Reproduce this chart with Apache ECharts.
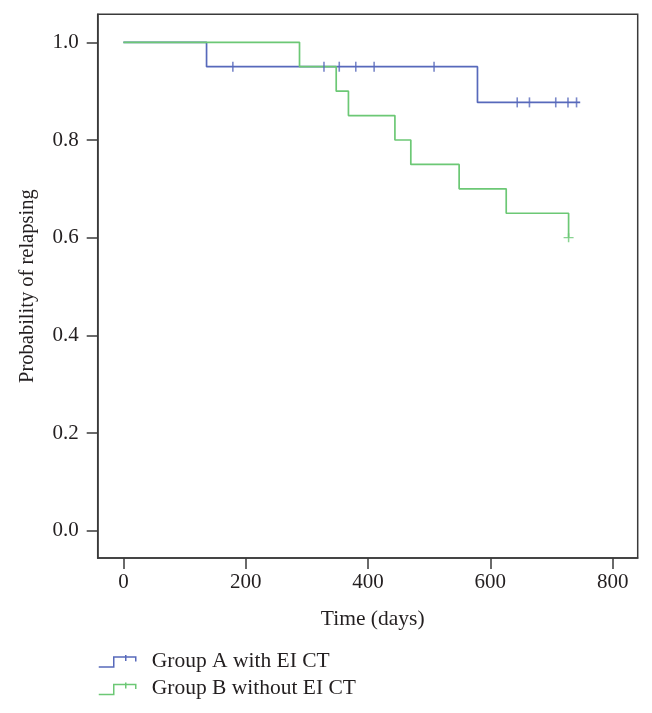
<!DOCTYPE html>
<html>
<head>
<meta charset="utf-8">
<script src="https://cdn.jsdelivr.net/npm/echarts@6/dist/echarts.min.js"></script>
<style>html,body{margin:0;padding:0;background:#fff;}#c{width:652px;height:713px;}</style>
</head>
<body>
<div id="c"></div>
<script>
// ---- data ----
const seriesNames = ['Group A with EI CT', 'Group B without EI CT'];
// Kaplan-Meier steps: [time (days), probability]
const groupASteps = [[0, 1.0], [136, 0.95], [579, 0.877], [747, 0.877]];
const groupBSteps = [[0, 1.0], [288, 0.95], [348, 0.90], [368, 0.85], [444, 0.80], [470, 0.75], [549, 0.70], [626, 0.65], [728, 0.60]];
// censored observations
const groupACensored = [[179, 0.95], [328, 0.95], [353, 0.95], [380, 0.95], [410, 0.95], [508, 0.95],
                        [644, 0.877], [664, 0.877], [707, 0.877], [727, 0.877], [741, 0.877]];
const groupBCensored = [[728, 0.60]];
const xTicks = [0, 200, 400, 600, 800];
const yTicks = [0, 0.2, 0.4, 0.6, 0.8, 1.0];

const blue = '#5769bb';
const green = '#6cc875';
const frame = '#3a3a3a';
const font = '"Liberation Serif", "DejaVu Serif", serif';
const txt = '#231f20';
const legendIcon = 'path://M0,12 L15,12 L15,2 L37,2 L37,6.5 M27,0 L27,6';

const chart = echarts.init(document.getElementById('c'));
chart.setOption({
  animation: false,
  backgroundColor: '#fff',
  grid: {
    left: 97.7, right: 14.3, top: 14.3, bottom: 155,
    show: true, borderColor: frame, borderWidth: 1.5, backgroundColor: 'transparent',
    containLabel: false
  },
  xAxis: {
    type: 'value', min: -42, max: 841,
    name: 'Time (days)', nameLocation: 'middle', nameGap: 50,
    nameTextStyle: { fontFamily: font, fontSize: 21.5, color: txt, padding: [0, 0, 0, 10] },
    axisLine: { show: true, onZero: false, lineStyle: { color: frame, width: 1.5 } },
    axisTick: { show: true, length: 11, lineStyle: { color: frame, width: 1.5 }, customValues: xTicks },
    axisLabel: { margin: 14, fontFamily: font, fontSize: 21, color: txt, customValues: xTicks },
    splitLine: { show: false }
  },
  yAxis: {
    type: 'value', min: -0.0557, max: 1.0573,
    name: 'Probability of relapsing', nameLocation: 'middle', nameGap: 60, nameRotate: 90,
    nameTextStyle: { fontFamily: font, fontSize: 20.5, color: txt },
    axisLine: { show: true, onZero: false, lineStyle: { color: frame, width: 1.5 } },
    axisTick: { show: true, length: 11, lineStyle: { color: frame, width: 1.5 }, customValues: yTicks },
    axisLabel: { margin: 19, fontFamily: font, fontSize: 21, color: txt, customValues: yTicks,
                 formatter: v => v.toFixed(1) },
    splitLine: { show: false }
  },
  legend: {
    orient: 'vertical', left: 98, top: 650, padding: 0,
    itemWidth: 37, itemHeight: 12, itemGap: 5.5,
    symbolKeepAspect: false,
    textStyle: { fontFamily: font, fontSize: 21.5, color: txt, padding: [0, 0, 0, 11] },
    selectedMode: false,
    data: [
      { name: seriesNames[0], icon: legendIcon, itemStyle: { color: 'rgba(0,0,0,0)', borderColor: blue, borderWidth: 1.5 } },
      { name: seriesNames[1], icon: legendIcon, itemStyle: { color: 'rgba(0,0,0,0)', borderColor: green, borderWidth: 1.5 } }
    ]
  },
  series: [
    { name: seriesNames[0], type: 'line', step: 'end', data: groupASteps, showSymbol: false, z: 2,
      lineStyle: { color: blue, width: 1.7 }, itemStyle: { color: blue } },
    { name: seriesNames[1], type: 'line', step: 'end', data: groupBSteps, showSymbol: false, z: 3,
      lineStyle: { color: green, width: 1.7 }, itemStyle: { color: green } },
    { name: 'A censored', type: 'scatter', data: groupACensored, z: 4,
      symbol: 'rect', symbolSize: [1.6, 10], itemStyle: { color: blue } },
    { name: 'B censored', type: 'scatter', data: groupBCensored, z: 4,
      symbol: 'path://M0,4.25 H10 V5.75 H0 Z M4.25,0 H5.75 V10 H4.25 Z', symbolSize: [10, 9],
      symbolKeepAspect: false, itemStyle: { color: green } }
  ]
});
</script>
</body>
</html>
